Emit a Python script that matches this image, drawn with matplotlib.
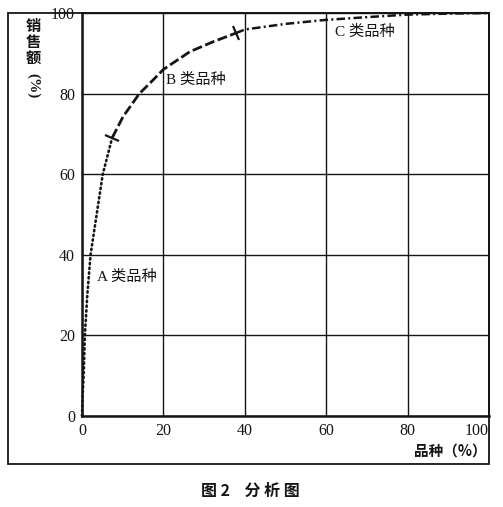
import numpy as np
import matplotlib
matplotlib.use("Agg")
import matplotlib.pyplot as plt
from matplotlib.markers import MarkerStyle
from matplotlib.transforms import Affine2D
from matplotlib.patches import Rectangle

# ---- data ----
a_x = [0, 0.15, 0.4, 0.7, 1.3, 2.1, 3.6, 5.1, 7.4]
a_y = [0, 5, 10, 20, 30, 40, 50, 60, 69]
b_x = [7.4, 10.1, 14.1, 17.1, 20, 26.5, 32.3, 37.8]
b_y = [69, 74.3, 80, 83, 86, 90.4, 92.9, 95]
c_x = [37.8, 40, 50, 60, 72, 80, 90, 100]
c_y = [95, 95.9, 97.3, 98.3, 99.1, 99.6, 99.85, 100]
ticks = [0, 20, 40, 60, 80, 100]
tick_labels = ["0", "20", "40", "60", "80", "100"]
labels = ["A 类品种", "B 类品种", "C 类品种"]
label_pos = [(3.7, 34.5), (20.6, 83.4), (62.2, 95.4)]

W, H = 503, 507
INK = "#151515"
SERIF = ["Liberation Serif", "DejaVu Serif"]
CJK = ["Noto Sans CJK SC", "DejaVu Sans"]
plt.rcParams["font.family"] = ["Liberation Serif", "Noto Sans CJK SC", "DejaVu Sans"]

fig = plt.figure(figsize=(W / 100, H / 100), dpi=100)
fig.patch.set_facecolor("white")

def fx(px):
    return px / W

def fy(py):
    return 1 - py / H

ax = fig.add_axes([fx(82), fy(416), fx(489) - fx(82), fy(13) - fy(416)])
ax.set_xlim(0, 100)
ax.set_ylim(0, 100)
ax.set_xticks(ticks)
ax.set_yticks(ticks)
ax.set_xticklabels(tick_labels, family=SERIF, fontsize=11.5, color=INK)
ax.set_yticklabels(tick_labels, family=SERIF, fontsize=11.5, color=INK)
ax.tick_params(length=0, pad=5)
ax.tick_params(axis="x", pad=5)
ax.get_xticklabels()[-1].set_ha("right")
ax.grid(True, color=INK, linewidth=1.0)
ax.set_axisbelow(True)
for side in ["left", "bottom"]:
    ax.spines[side].set_linewidth(1.8)
    ax.spines[side].set_color(INK)
for side in ["top", "right"]:
    ax.spines[side].set_linewidth(1.3)
    ax.spines[side].set_color(INK)

# curve segments
ax.plot(a_x, a_y, color=INK, lw=1.9, linestyle=(0, (0.5, 1.3)),
        dash_capstyle="round", clip_on=False, zorder=3)
ax.plot(b_x, b_y, color=INK, lw=2.0, linestyle=(0, (3.6, 1.25)),
        dash_capstyle="butt", clip_on=False, zorder=3)
ax.plot(c_x, c_y, color=INK, lw=1.8, linestyle=(0, (3.4, 1.3, 0.8, 1.3)),
        dash_capstyle="butt", clip_on=False, zorder=3)

# perpendicular boundary marks at the segment joins
def boundary_mark(xs_in, ys_in, xs_out, ys_out):
    x0, y0 = xs_in[-2], ys_in[-2]
    x1, y1 = xs_out[1], ys_out[1]
    p0 = ax.transData.transform((x0, y0))
    p1 = ax.transData.transform((x1, y1))
    ang = np.degrees(np.arctan2(p1[1] - p0[1], p1[0] - p0[0]))
    m = MarkerStyle("|", transform=Affine2D().rotate_deg(ang))
    ax.plot([xs_in[-1]], [ys_in[-1]], marker=m, markersize=11, mew=1.6,
            color=INK, zorder=4, clip_on=False)

boundary_mark(a_x, a_y, b_x, b_y)
boundary_mark(b_x, b_y, c_x, c_y)

for t, (x, y) in zip(labels, label_pos):
    ax.text(x, y, t, ha="left", va="center", fontsize=11, color=INK,
            family=["Liberation Serif", "Noto Sans CJK SC"])

# y axis label, stacked vertically
ychars = ["销", "售", "额"]
ypos = [25.5, 42.5, 59]
for ch, yy in zip(ychars, ypos):
    fig.text(fx(33), fy(yy), ch, ha="center", va="center", fontsize=11,
             color=INK, family=CJK, fontweight="bold")
fig.text(fx(33), fy(86), "(%)", ha="center", va="center", fontsize=11,
         rotation=-90, color=INK, family=SERIF, fontweight="bold")

# x axis label
fig.text(fx(487), fy(451), "品种（%）", ha="right", va="center", fontsize=10.5,
         color=INK, family=CJK, fontweight="bold")

# caption
fig.text(fx(250), fy(491), "图 2    分 析 图", ha="center", va="center",
         fontsize=11.5, color=INK, family=CJK, fontweight="bold")

# outer frame
fig.patches.append(Rectangle((fx(8), fy(464)), fx(489) - fx(8), fy(13) - fy(464),
                             transform=fig.transFigure, fill=False,
                             edgecolor=INK, linewidth=1.3, zorder=0))

fig.savefig("out.png", dpi=100, facecolor="white")
